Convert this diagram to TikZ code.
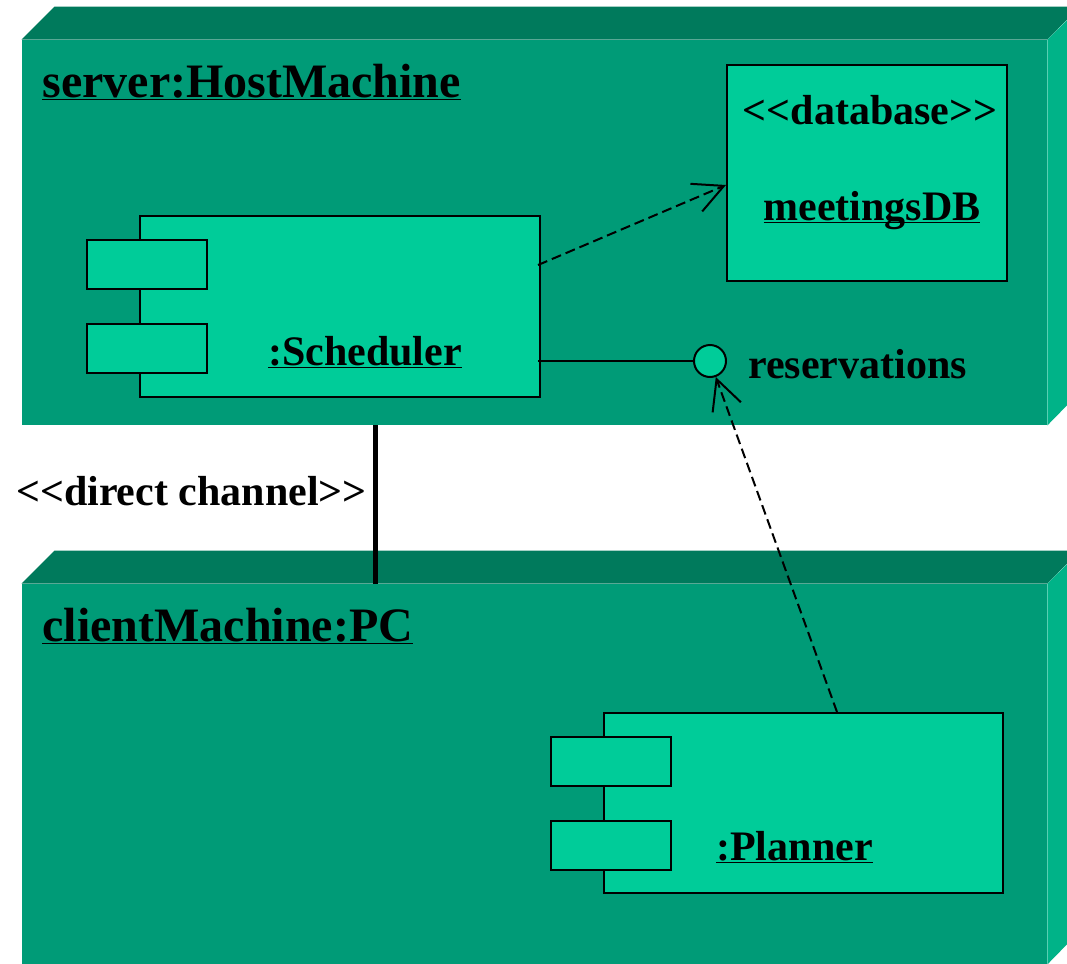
\documentclass[tikz,border=0pt]{standalone}
\usepackage{fontspec}
\setmainfont{Liberation Serif}
\usetikzlibrary{arrows.meta}

\definecolor{nodefront}{HTML}{009B77}
\definecolor{nodetop}{HTML}{007A5C}
\definecolor{nodeside}{HTML}{00B388}
\definecolor{compfill}{HTML}{00CC99}

\newcommand{\ulbl}[1]{\underline{\smash{#1}}}
\newcommand{\stereo}[1]{<\kern0pt<#1>\kern0pt>}

\tikzset{
  front/.style={fill=nodefront, draw=none, inner sep=0pt},
  comp/.style={fill=compfill, draw=black, line width=1pt, inner sep=0pt},
  tab/.style={comp, minimum width=60pt, minimum height=24.5pt},
  nodename/.style={font=\fontsize{24}{28}\selectfont\bfseries, inner sep=0pt},
  lbl/.style={font=\fontsize{21}{25}\selectfont\bfseries, inner sep=0pt},
  dep/.style={draw=black, line width=1pt, dash pattern=on 5pt off 2.5pt,
    -{Straight Barb[length=15pt,width=15pt]}},
  link/.style={draw=black, line width=1pt},
  channel/.style={draw=black, line width=2.5pt},
}

\begin{document}
\begin{tikzpicture}[x=0.5pt,y=-0.5pt]
\useasboundingbox (0,0) rectangle (1067,964);
\clip (0,0) rectangle (1067,964);

% === server node ===
\node[front, minimum width=512.5pt, minimum height=192.5pt] (server) at (534.5,232.5) {};
\fill[nodetop] (server.north west) -- ++(33,-33) -- ++(1025,0) -- (server.north east) -- cycle;
\fill[nodeside] (server.north east) -- ++(33,-33) -- ++(0,385) -- (server.south east) -- cycle;
\node[nodename, anchor=base west] (servername) at (42,97) {\ulbl{server:HostMachine}};

% scheduler component
\node[comp, minimum width=200pt, minimum height=90.5pt] (scheduler) at (340,306.5) {};
\foreach \ty [count=\i] in {264.5,348.5} {
  \node[tab] (stab\i) at (147,\ty) {};
}
\node[lbl, anchor=base] (schedlbl) at (365,365) {\ulbl{:Scheduler}};

% database
\node[comp, minimum width=140pt, minimum height=108pt] (db) at (867,173) {};
\node[lbl, anchor=base] (dbstereo) at (870,124) {\stereo{database}};
\node[lbl, anchor=base] (dblbl) at (872,220) {\ulbl{meetingsDB}};

% interface
\node[comp, circle, minimum size=16pt] (iface) at (710,361) {};
\node[lbl, anchor=base west] (ifacelbl) at (748,378) {reservations};

% === client node ===
\node[front, minimum width=512.5pt, minimum height=190pt] (client) at (534.5,774) {};
\fill[nodetop] (client.north west) -- ++(33,-33) -- ++(1025,0) -- (client.north east) -- cycle;
\fill[nodeside] (client.north east) -- ++(33,-33) -- ++(0,380) -- (client.south east) -- cycle;
\node[nodename, anchor=base west] (clientname) at (42,641) {\ulbl{clientMachine:PC}};

% planner component
\node[comp, minimum width=199.5pt, minimum height=90pt] (planner) at (803.5,803) {};
\foreach \ty [count=\i] in {761,845} {
  \node[tab] (ptab\i) at (611,\ty) {};
}
\node[lbl, anchor=base] (planlbl) at (794.5,860) {\ulbl{:Planner}};

% connectors
\draw[dep] ([xshift=-1.5pt,yshift=20.75pt]scheduler.east) -- ([yshift=-6pt]db.west);
\draw[link] ([xshift=-1.5pt,yshift=-27.25pt]scheduler.east) -- (iface);
\draw[dep] ([xshift=117pt]planner.north west) -- (iface);

\coordinate (chan) at (375,0);
\draw[channel] (server.south -| chan) -- (client.north -| chan);
\node[lbl, anchor=base east] (chanlbl) at (367,505) {\stereo{direct channel}};

\end{tikzpicture}
\end{document}
